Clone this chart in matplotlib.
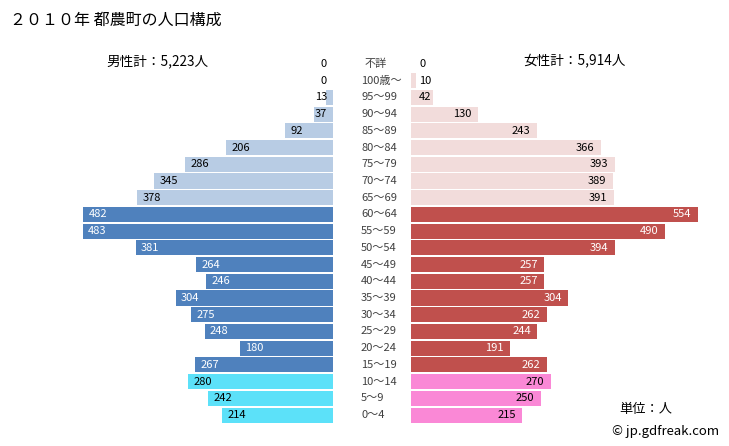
import matplotlib
matplotlib.use("Agg")
import matplotlib.pyplot as plt

plt.rcParams['font.family'] = ['Noto Sans CJK JP', 'DejaVu Sans']

ages = ["不詳", "100歳～", "95～99", "90～94", "85～89", "80～84", "75～79", "70～74",
        "65～69", "60～64", "55～59", "50～54", "45～49", "40～44", "35～39", "30～34",
        "25～29", "20～24", "15～19", "10～14", "5～9", "0～4"]
male = [0, 0, 13, 37, 92, 206, 286, 345, 378, 482, 483, 381, 264, 246, 304, 275,
        248, 180, 267, 280, 242, 214]
female = [0, 10, 42, 130, 243, 366, 393, 389, 391, 554, 490, 394, 257, 257, 304, 262,
          244, 191, 262, 270, 250, 215]
groups = ["old"] * 9 + ["work"] * 10 + ["young"] * 3

male_col = {"old": "#b8cce4", "work": "#4f81bd", "young": "#5ce1f9"}
female_col = {"old": "#f2dcdb", "work": "#c0504d", "young": "#fa88d6"}
txt_col = {"old": "#000000", "work": "#ffffff", "young": "#000000"}

W, H = 729, 446
fig = plt.figure(figsize=(W / 100, H / 100), dpi=100)

scale = 0.518  # px per person
top_px, bot_px = 55.6, 423.4
n = len(ages)

def axrect(x0, x1):
    return [x0 / W, 1 - bot_px / H, (x1 - x0) / W, (bot_px - top_px) / H]

axm = fig.add_axes(axrect(10, 333))
axf = fig.add_axes(axrect(411, 720))
axm.set_xlim((333 - 10) / scale, 0)
axf.set_xlim(0, (720 - 411) / scale)
for ax in (axm, axf):
    ax.set_ylim(n - 0.5, -0.5)
    ax.axis("off")

ys = list(range(n))
axm.barh(ys, male, height=0.9, color=[male_col[g] for g in groups])
axf.barh(ys, female, height=0.9, color=[female_col[g] for g in groups])

fs = 8
for i, (m, f, g) in enumerate(zip(male, female, groups)):
    # male
    if m * scale > 32:
        axm.text(m - 5.5 / scale, i, f"{m}", ha="left", va="center", fontsize=fs,
                 color=txt_col[g])
    else:
        axm.text(6 / scale, i, f"{m}", ha="right", va="center", fontsize=fs,
                 color="#000000")
    # female
    if f * scale > 32:
        axf.text(f - 6.5 / scale, i, f"{f}", ha="right", va="center", fontsize=fs,
                 color=txt_col[g])
    else:
        axf.text(8 / scale, i, f"{f}", ha="left", va="center", fontsize=fs,
                 color="#000000")
    # age label
    yy = 1 - (top_px + (i + 0.5) * (bot_px - top_px) / n) / H
    if i == 0:
        fig.text(376 / W, yy, ages[i], ha="center", va="center", fontsize=fs,
                 color="#404040")
    else:
        fig.text(361 / W, yy, ages[i], ha="left", va="center", fontsize=fs,
                 color="#404040")

fig.text(10 / W, 1 - 20.5 / H, "２０１０年 都農町の人口構成", ha="left", va="center",
         fontsize=11.5, color="#000000")
fig.text(157 / W, 1 - 61 / H, "男性計：5,223人", ha="center", va="center",
         fontsize=9.8, color="#000000")
fig.text(574 / W, 1 - 61 / H, "女性計：5,914人", ha="center", va="center",
         fontsize=9.8, color="#000000")
fig.text(646 / W, 1 - 410 / H, "単位：人", ha="center", va="center",
         fontsize=9.5, color="#000000")
fig.text(719 / W, 1 - 432 / H, "© jp.gdfreak.com", ha="right", va="center",
         fontsize=9.5, color="#000000")

fig.savefig("out.png", dpi=100)
